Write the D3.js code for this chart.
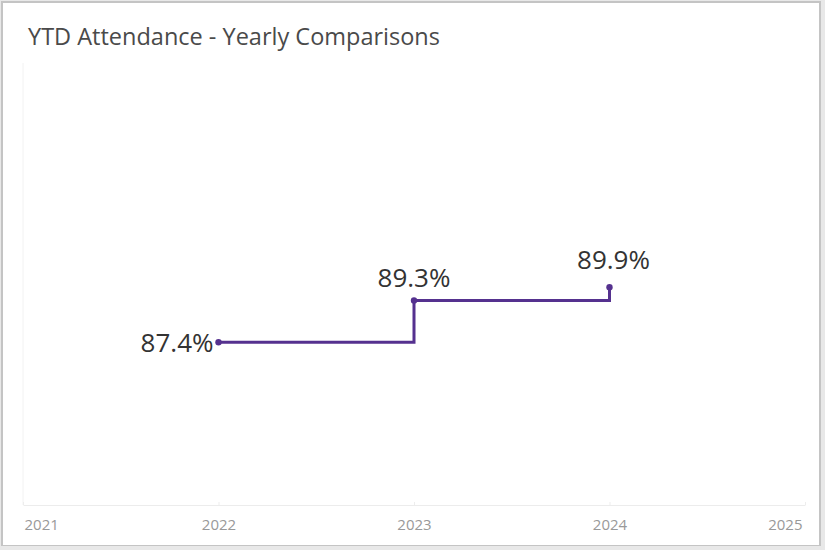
<!DOCTYPE html>
<html>
<head>
<meta charset="utf-8">
<script src="https://cdn.jsdelivr.net/npm/d3@7"></script>
<style>
  html, body { margin: 0; padding: 0; background: #fff; }
  svg { display: block; }
</style>
</head>
<body>
<svg id="chart" width="825" height="550"></svg>
<script>
const title = "YTD Attendance - Yearly Comparisons";
const years = [2022, 2023, 2024];
const attendance = [87.4, 89.3, 89.9];
const tickYears = [2021, 2022, 2023, 2024, 2025];
const labelText = ["87.4%", "89.3%", "89.9%"];

const svg = d3.select("#chart");
const W = 825, H = 550;

// card frame
svg.append("rect").attr("x", 0).attr("y", 0).attr("width", W).attr("height", H).attr("fill", "#e8e8e8");
svg.append("rect").attr("x", 1).attr("y", 1).attr("width", W - 5).attr("height", H - 5).attr("fill", "#c4c4c4");
svg.append("rect").attr("x", 3).attr("y", 3).attr("width", W - 9).attr("height", H - 8).attr("fill", "#ffffff");

svg.append("text")
  .attr("x", 28).attr("y", 45)
  .attr("font-family", "'Open Sans', 'Noto Sans', sans-serif")
  .attr("font-size", 23.5)
  .attr("fill", "#4a4a4a")
  .text(title);

const x = d3.scaleLinear().domain([2021, 2025]).range([23, 805]);
const y = d3.scaleLinear().domain([80, 100]).range([505, 65]);

// faint left axis line
svg.append("line").attr("x1", 23).attr("x2", 23).attr("y1", 63).attr("y2", 505)
  .attr("stroke", "#f2f2f2").attr("stroke-width", 1);

// x axis
const axis = d3.axisBottom(x).tickValues(tickYears).tickFormat(d3.format("d")).tickSize(4).tickSizeOuter(0);
const gx = svg.append("g").attr("transform", "translate(0,505)").call(axis);
gx.select(".domain").attr("stroke", "#ececec");
gx.selectAll(".tick line").attr("stroke", "#ededed").attr("y1", -3).attr("y2", 0);
gx.selectAll(".tick text")
  .attr("font-family", "'Open Sans', 'Noto Sans', sans-serif")
  .attr("font-size", 15)
  .attr("fill", "#999999")
  .attr("y", 14)
  .attr("text-anchor", d => d === 2021 ? "start" : d === 2025 ? "end" : "middle")
  .attr("dx", d => d === 2021 ? 1 : d === 2025 ? -3 : 0);

const data = years.map((yr, i) => ({ year: yr, value: attendance[i], label: labelText[i] }));

const line = d3.line().x(d => x(d.year)).y(d => y(d.value)).curve(d3.curveStepAfter);
svg.append("path").datum(data)
  .attr("d", line)
  .attr("fill", "none")
  .attr("stroke", "#55318f")
  .attr("stroke-width", 3);

svg.selectAll("circle.pt").data(data).enter().append("circle")
  .attr("class", "pt")
  .attr("cx", d => x(d.year)).attr("cy", d => y(d.value))
  .attr("r", 3.2).attr("fill", "#55318f");

const dyOff = [10, -13, -18];
svg.selectAll("text.lbl").data(data).enter().append("text")
  .attr("class", "lbl")
  .attr("font-family", "'Open Sans', 'Noto Sans', sans-serif")
  .attr("font-size", 26)
  .attr("fill", "#333333")
  .attr("text-anchor", (d, i) => i === 0 ? "end" : "middle")
  .attr("x", (d, i) => i === 0 ? x(d.year) - 5 : x(d.year) + (i === 2 ? 4 : 0))
  .attr("y", (d, i) => y(d.value) + dyOff[i])
  .text(d => d.label);
</script>
</body>
</html>
